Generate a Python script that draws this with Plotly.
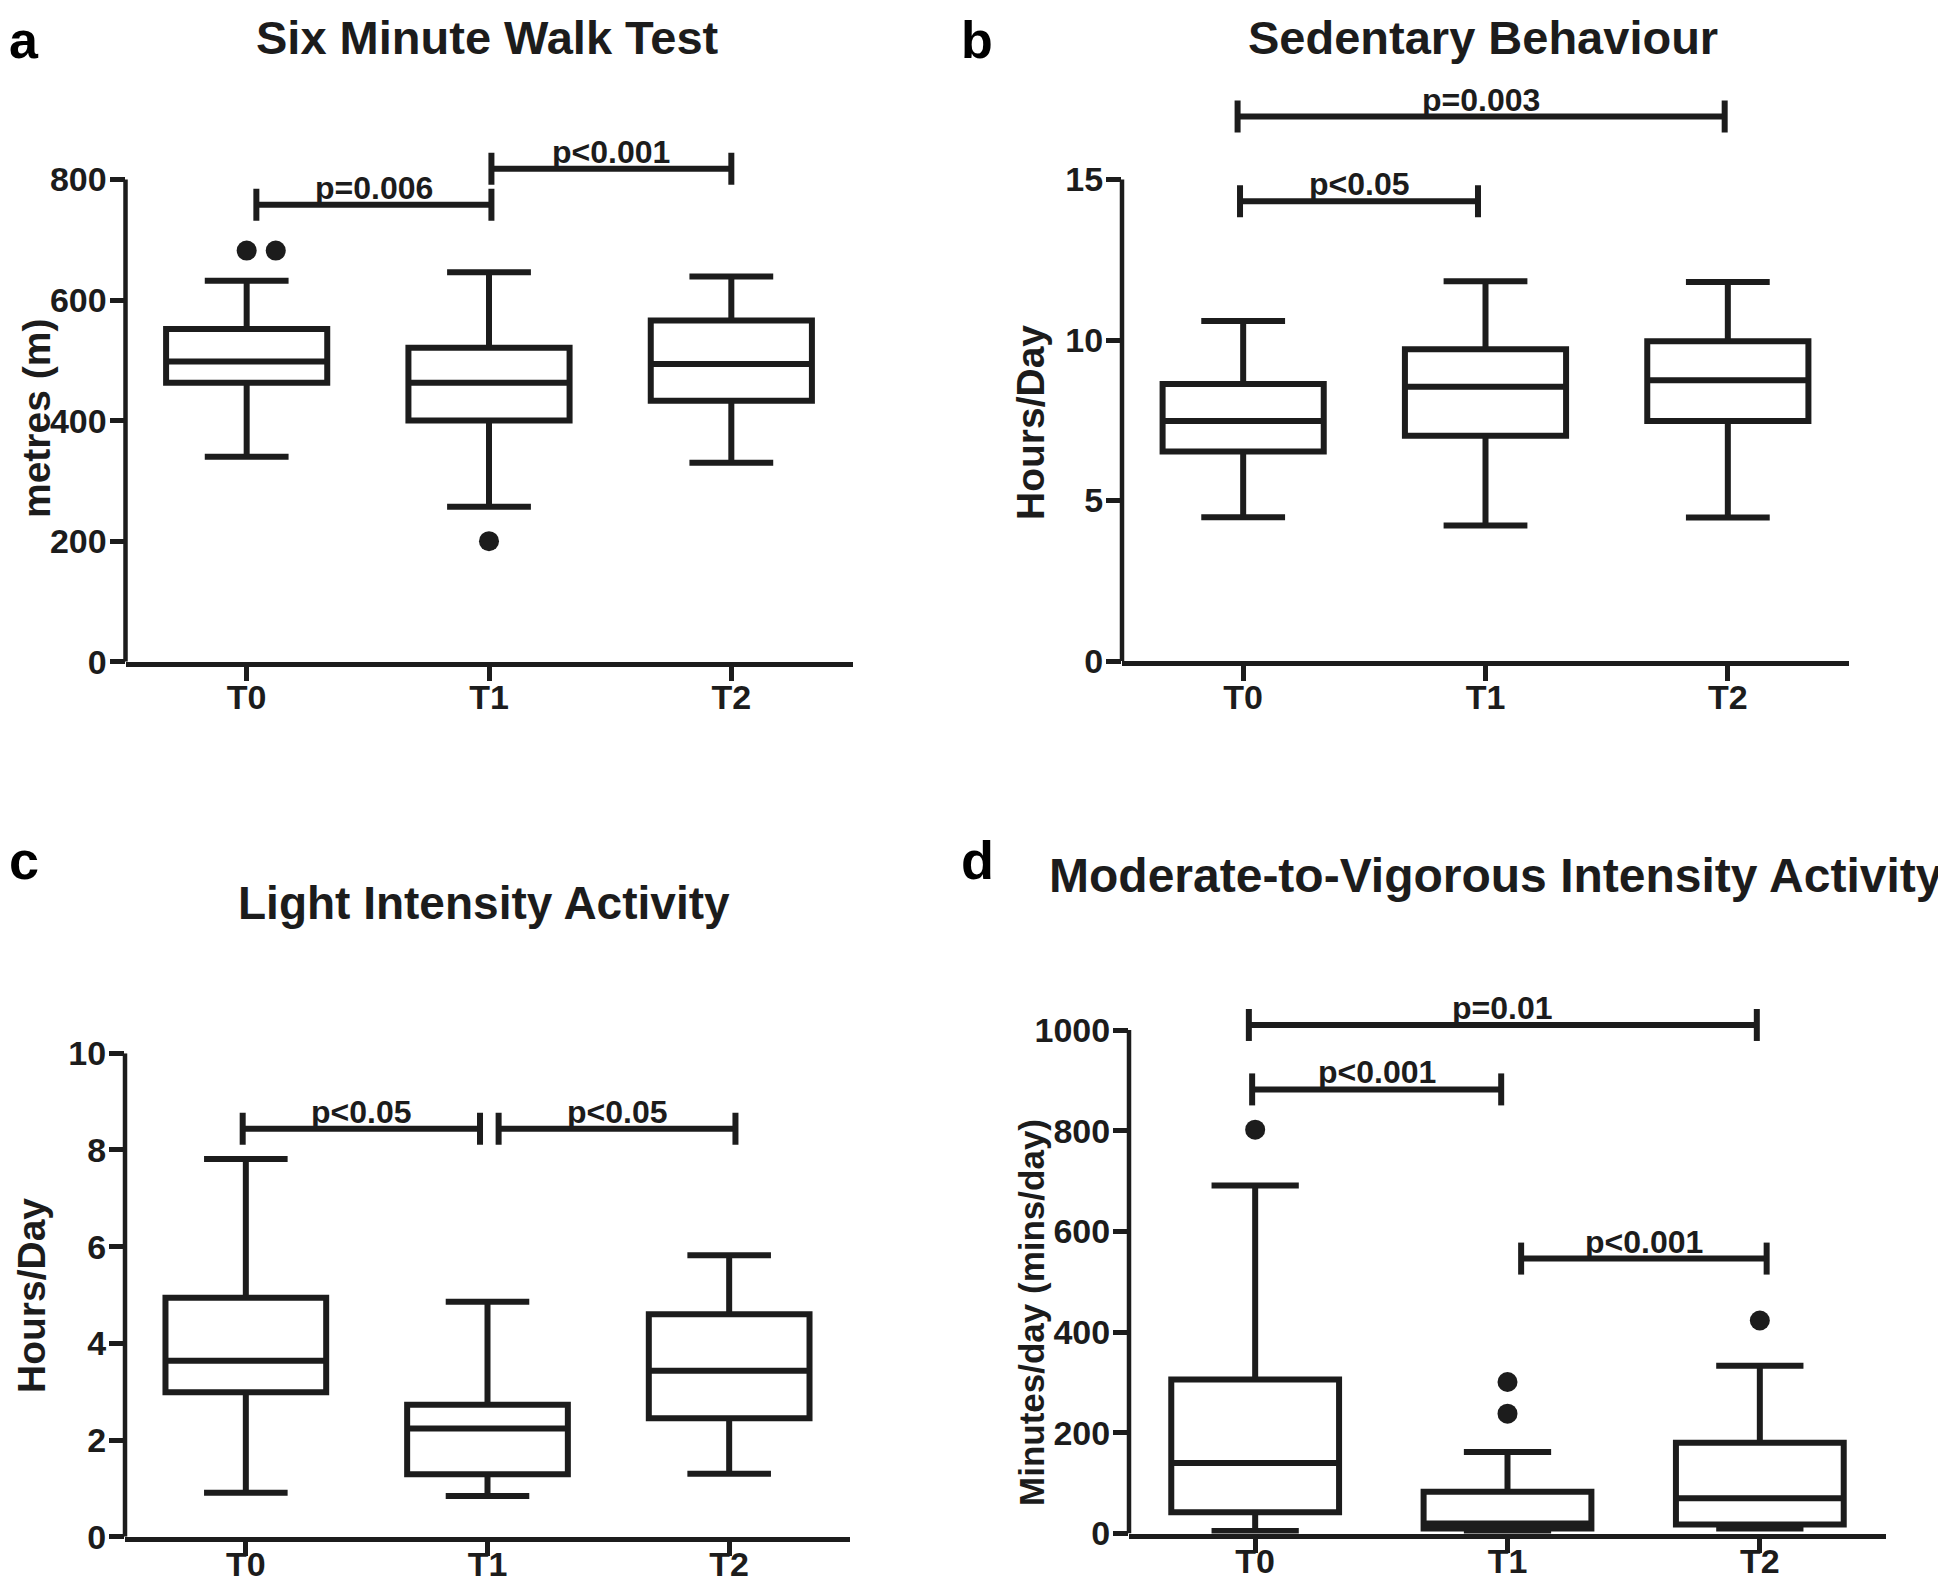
import plotly.graph_objects as go

# ---------------- data ----------------
categories = ["T0", "T1", "T2"]

# a: Six Minute Walk Test (metres)
a_q1 = [463, 400, 433]
a_median = [498, 463, 494]
a_q3 = [552, 521, 566]
a_low = [340, 257, 330]
a_high = [632, 646, 639]
a_out_cat = [0, 0, 1]
a_out_val = [682, 682, 200]
a_yticks = [0, 200, 400, 600, 800]
a_brk_from = [0, 1]
a_brk_to = [1, 2]
a_brk_val = [758, 818]
a_brk_text = ["p=0.006", "p<0.001"]

# b: Sedentary Behaviour (hours/day)
b_q1 = [6.53, 7.02, 7.48]
b_median = [7.48, 8.54, 8.75]
b_q3 = [8.63, 9.71, 9.96]
b_low = [4.48, 4.22, 4.47]
b_high = [10.59, 11.83, 11.81]
b_out_cat = []
b_out_val = []
b_yticks = [0, 5, 10, 15]
b_brk_from = [0, 0]
b_brk_to = [1, 2]
b_brk_val = [14.32, 16.96]
b_brk_text = ["p<0.05", "p=0.003"]

# c: Light Intensity Activity (hours/day)
c_q1 = [2.99, 1.29, 2.45]
c_median = [3.64, 2.24, 3.43]
c_q3 = [4.94, 2.73, 4.60]
c_low = [0.91, 0.84, 1.30]
c_high = [7.81, 4.86, 5.82]
c_out_cat = []
c_out_val = []
c_yticks = [0, 2, 4, 6, 8, 10]
c_brk_from = [0, 1]
c_brk_to = [1, 2]
c_brk_val = [8.44, 8.44]
c_brk_text = ["p<0.05", "p<0.05"]

# d: Moderate-to-Vigorous Intensity Activity (mins/day)
d_q1 = [42, 10, 18]
d_median = [140, 20, 70]
d_q3 = [306, 83, 180]
d_low = [5, 4, 10]
d_high = [691, 162, 333]
d_out_cat = [0, 1, 1, 2]
d_out_val = [802, 301, 238, 423]
d_yticks = [0, 200, 400, 600, 800, 1000]
d_brk_from = [0, 0, 1]
d_brk_to = [2, 1, 2]
d_brk_val = [1010, 882, 546]
d_brk_text = ["p=0.01", "p<0.001", "p<0.001"]

titles = ["Six Minute Walk Test", "Sedentary Behaviour",
          "Light Intensity Activity", "Moderate-to-Vigorous Intensity Activity"]
ytitles = ["metres (m)", "Hours/Day", "Hours/Day", "Minutes/day (mins/day)"]
letters = ["a", "b", "c", "d"]

# ---------------- styling / layout ----------------
W, H = 1946, 1587
OFF = 8  # the page body adds an 8 px margin around the figure
INK = "#1c1c1c"
FONT = "Liberation Sans, Arial, Helvetica, sans-serif"
LW = 6
ALW = 4.5


def px2x(px):
    return (px - OFF) / W


def px2y(py):
    return 1 - (py - OFF) / H


# panel geometry in screen pixels: left, right, y-zero px, top-tick px, range top
geom = [
    dict(left=125.5, right=852.5, zero=661.7, toppx=179.5, rtop=880, xstand=-13),
    dict(left=1122, right=1849, zero=661, toppx=179.5, rtop=17.7, xstand=-13),
    dict(left=125, right=850, zero=1536.7, toppx=1053.2, rtop=10, xstand=-21),
    dict(left=1129, right=1886, zero=1533.5, toppx=1030, rtop=1100, xstand=-21),
]
# small horizontal nudges of bracket ends (category units)
brk_nudge = [
    [(0.04, 0.01), (0.01, 0.0)],
    [(-0.013, -0.031), (-0.023, -0.013)],
    [(-0.013, -0.031), (0.046, 0.026)],
    [(-0.025, -0.012), (-0.012, -0.025), (0.054, 0.027)],
]
# (x, y, size); y=None -> pinned to the top edge of the figure
title_pos = [(487, None, 47), (1483, None, 47), (484, 903.5, 46), (1496, 875, 48)]
letter_pos = [(24, None, 52), (977, None, 52), (24, 860, 54), (977, 860, 54)]
ytitle_pos = [(36, 419, 39), (1030, 422, 39), (31, 1296, 39), (1031, 1313, 35)]

panels = [
    (a_q1, a_median, a_q3, a_low, a_high, a_out_cat, a_out_val, a_yticks,
     a_brk_from, a_brk_to, a_brk_val, a_brk_text),
    (b_q1, b_median, b_q3, b_low, b_high, b_out_cat, b_out_val, b_yticks,
     b_brk_from, b_brk_to, b_brk_val, b_brk_text),
    (c_q1, c_median, c_q3, c_low, c_high, c_out_cat, c_out_val, c_yticks,
     c_brk_from, c_brk_to, c_brk_val, c_brk_text),
    (d_q1, d_median, d_q3, d_low, d_high, d_out_cat, d_out_val, d_yticks,
     d_brk_from, d_brk_to, d_brk_val, d_brk_text),
]


def place(xpx, ypx):
    if ypx is None:
        return dict(x=px2x(xpx), y=1, yanchor="top", yshift=-1)
    return dict(x=px2x(xpx), y=px2y(ypx), yanchor="middle")


fig = go.Figure()
shapes = []
annotations = []
layout_axes = {}

for i, (q1, med, q3, lo, hi, ocat, oval, yt, bf, bt, bv, btxt) in enumerate(panels):
    n = "" if i == 0 else str(i + 1)
    xa, ya = "x" + n, "y" + n
    g = geom[i]
    top_tick = yt[-1]
    ppu = (g["zero"] - g["toppx"]) / top_tick
    top_px = g["zero"] - g["rtop"] * ppu
    xdom = [px2x(g["left"]), px2x(g["right"])]
    ydom = [px2y(g["zero"]), px2y(top_px)]

    fig.add_trace(go.Box(
        x=[0, 1, 2], q1=q1, median=med, q3=q3, lowerfence=lo, upperfence=hi,
        width=0.665, whiskerwidth=0.52, boxpoints=False,
        line=dict(color=INK, width=LW), fillcolor="rgba(255,255,255,0)",
        xaxis=xa, yaxis=ya, showlegend=False, hoverinfo="skip"))

    # outliers: spread duplicates sideways like the original software does
    seen = {}
    ox = []
    for c, v in zip(ocat, oval):
        k = (c, v)
        ox.append(c + 0.12 * seen.get(k, 0))
        seen[k] = seen.get(k, 0) + 1
    if ox:
        fig.add_trace(go.Scatter(
            x=ox, y=oval, mode="markers",
            marker=dict(size=20, color=INK, line=dict(width=0)),
            xaxis=xa, yaxis=ya, showlegend=False, hoverinfo="skip"))

    layout_axes["xaxis" + n] = dict(
        domain=xdom, anchor=ya, range=[-0.5, 2.5], automargin=False,
        tickmode="array", tickvals=[0, 1, 2], ticktext=categories,
        showline=True, linewidth=ALW, linecolor=INK,
        ticks="outside", ticklen=15, tickwidth=ALW, tickcolor=INK,
        ticklabelstandoff=g["xstand"],
        showgrid=False, zeroline=False,
        tickfont=dict(family=FONT, size=34, color=INK, weight="bold"))
    layout_axes["yaxis" + n] = dict(
        domain=ydom, anchor=xa, range=[0, g["rtop"]], automargin=False,
        tickmode="array", tickvals=yt, ticktext=[str(v) for v in yt],
        showline=False, ticks="outside", ticklen=15, tickwidth=ALW,
        tickcolor=INK, showgrid=False, zeroline=False,
        ticklabelstandoff=-4,
        tickfont=dict(family=FONT, size=34, color=INK, weight="bold"))

    # y axis line only up to the top tick
    shapes.append(dict(type="line", xref="paper", yref=ya,
                       xsizemode="pixel", xanchor=xdom[0], x0=0, x1=0,
                       y0=0, y1=top_tick, line=dict(color=INK, width=ALW)))

    # significance brackets
    for (f, t, v, txt), (n0, n1) in zip(zip(bf, bt, bv, btxt), brk_nudge[i]):
        x0 = f + n0
        x1 = t + n1
        shapes.append(dict(type="line", xref=xa, yref=ya, x0=x0, x1=x1,
                           y0=v, y1=v, line=dict(color=INK, width=LW)))
        for xe in (x0, x1):
            shapes.append(dict(type="line", xref=xa, yref=ya,
                               ysizemode="pixel", yanchor=v, y0=-16, y1=16,
                               x0=xe, x1=xe, line=dict(color=INK, width=LW)))
        annotations.append(dict(
            x=(x0 + x1) / 2, y=v, xref=xa, yref=ya, text=txt,
            showarrow=False, yanchor="bottom", yshift=-3,
            font=dict(family=FONT, size=32, color=INK, weight="bold")))

    tx, ty, ts = title_pos[i]
    annotations.append(dict(
        xref="paper", yref="paper", text=titles[i],
        showarrow=False, xanchor="center", **place(tx, ty),
        font=dict(family=FONT, size=ts, color=INK, weight="bold")))
    lx, ly, ls = letter_pos[i]
    annotations.append(dict(
        xref="paper", yref="paper", text=letters[i],
        showarrow=False, xanchor="center", **place(lx, ly),
        font=dict(family=FONT, size=ls, color="#000000", weight="bold")))
    yx, yy, ys = ytitle_pos[i]
    annotations.append(dict(
        x=px2x(yx), y=px2y(yy), xref="paper", yref="paper", text=ytitles[i],
        showarrow=False, textangle=-90, xanchor="center", yanchor="middle",
        font=dict(family=FONT, size=ys, color=INK, weight="bold")))

fig.update_layout(
    width=W, height=H, margin=dict(l=0, r=0, t=0, b=0, autoexpand=False),
    paper_bgcolor="white", plot_bgcolor="white",
    showlegend=False, shapes=shapes, annotations=annotations,
    **layout_axes)

fig.write_html("out.html")
